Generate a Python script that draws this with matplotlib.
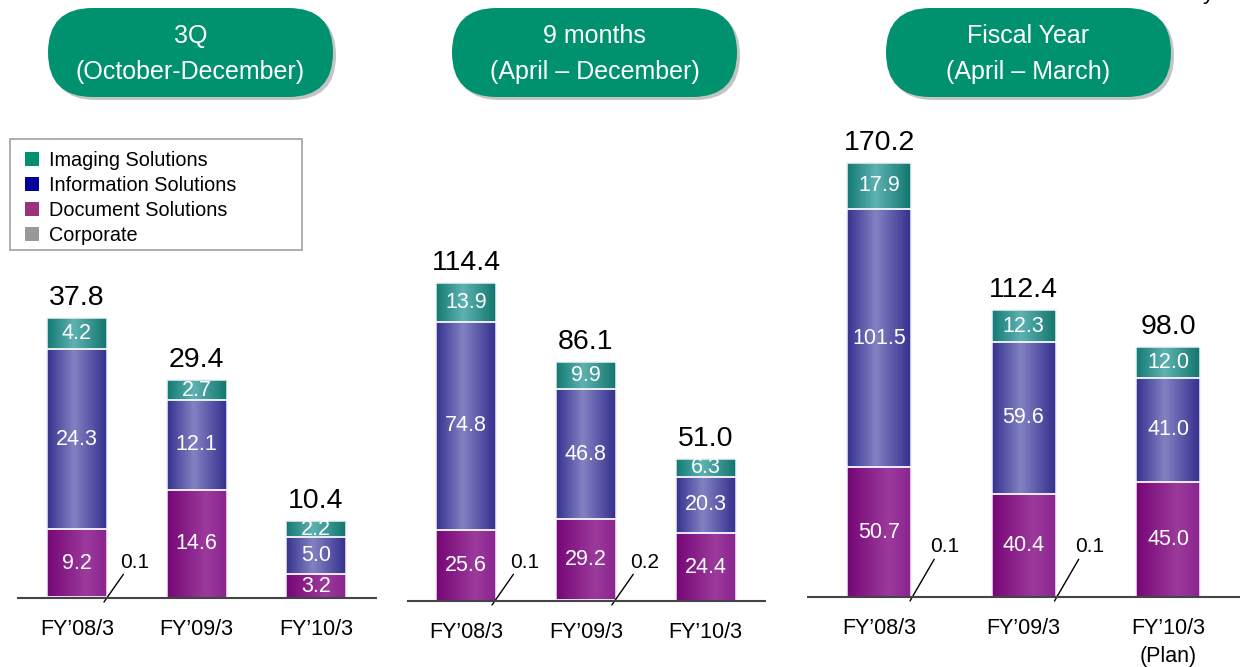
import numpy as np
import matplotlib
matplotlib.use("Agg")
import matplotlib.pyplot as plt
from matplotlib.colors import LinearSegmentedColormap
from matplotlib.patches import FancyBboxPatch, Patch, Rectangle

plt.rcParams["font.family"] = ["Liberation Sans", "DejaVu Sans"]

## data
panel_titles = ["3Q\n(October-December)", "9 months\n(April \u2013 December)", "Fiscal Year\n(April \u2013 March)"]
years = ["FY\u201908/3", "FY\u201909/3", "FY\u201910/3"]
years_fy = ["FY\u201908/3", "FY\u201909/3", "FY\u201910/3\n(Plan)"]

corporate = [[0.1, 0.0, 0.0], [0.1, 0.2, 0.0], [0.1, 0.1, 0.0]]
document = [[9.2, 14.6, 3.2], [25.6, 29.2, 24.4], [50.7, 40.4, 45.0]]
information = [[24.3, 12.1, 5.0], [74.8, 46.8, 20.3], [101.5, 59.6, 41.0]]
imaging = [[4.2, 2.7, 2.2], [13.9, 9.9, 6.3], [17.9, 12.3, 12.0]]
totals = [[37.8, 29.4, 10.4], [114.4, 86.1, 51.0], [170.2, 112.4, 98.0]]

series_names = ["Imaging Solutions", "Information Solutions", "Document Solutions", "Corporate"]
legend_colors = ["#009070", "#000099", "#993380", "#999999"]

## layout (pixels of the 1242x667 picture)
W, H = 1242, 667
# baseline, px per unit, first bar centre, bar spacing, bar width, axis left, axis right, header x0, x1
layout = [
    dict(base=598, ppu=7.41, c0=77, sp=119.5, bw=60, L=17, R=377, hx=(48, 333), lead=(27, 51, 30, 58, 36)),
    dict(base=601, ppu=2.78, c0=466, sp=119.8, bw=60, L=407, R=766, hx=(452, 737), lead=(26, 53, 28, 59, 39)),
    dict(base=597, ppu=2.55, c0=879, sp=144.5, bw=64, L=807, R=1240, hx=(886, 1171), lead=(31, 54, 37, 66, 50)),
]
TOP = 110

cmaps = {
    "doc": LinearSegmentedColormap.from_list("doc", [(0, "#760676"), (0.65, "#9C3A9C"), (1, "#8A2490")]),
    "info": LinearSegmentedColormap.from_list("info", [(0, "#35318F"), (0.45, "#8282C2"), (1, "#34308E")]),
    "img": LinearSegmentedColormap.from_list("img", [(0, "#127A72"), (0.45, "#5EB2B2"), (1, "#12766E")]),
    "corp": LinearSegmentedColormap.from_list("corp", ["#999999", "#999999"]),
}
grad = np.linspace(0, 1, 256).reshape(1, -1)

fig = plt.figure(figsize=(W / 100, H / 100), dpi=100)
pt = 0.72  # points per pixel

for p in range(3):
    lo = layout[p]
    B = lo["base"] + 15
    ax = fig.add_axes([lo["L"] / W, 1 - B / H, (lo["R"] - lo["L"]) / W, (B - TOP) / H])
    ax.set_facecolor("none")
    x = np.arange(3)
    w = lo["bw"] / lo["sp"]

    bottom = np.zeros(3)
    for key, vals in [("corp", corporate[p]), ("doc", document[p]), ("info", information[p]), ("img", imaging[p])]:
        vals = np.array(vals)
        bars = ax.bar(x, vals, w, bottom=bottom, facecolor="none", edgecolor="#F2F2F8", lw=1.1, zorder=3)
        for i, rect in enumerate(bars):
            if vals[i] <= 0:
                continue
            im = ax.imshow(grad, cmap=cmaps[key], aspect="auto", zorder=2,
                           extent=[x[i] - w / 2, x[i] + w / 2, bottom[i], bottom[i] + vals[i]])
            im.set_clip_path(rect)
            if key != "corp":
                ax.text(x[i], bottom[i] + vals[i] / 2, "%.1f" % vals[i], ha="center", va="center",
                        color="white", fontsize=15.5, zorder=4)
        bottom = bottom + vals

    for i in range(3):
        ax.annotate("%.1f" % totals[p][i], xy=(x[i], bottom[i]), xytext=(0, 5), textcoords="offset points",
                    ha="center", va="bottom", fontsize=20.5)
        c = corporate[p][i]
        if c > 0:
            sx, ex, ey, tx, ty = lo["lead"]
            ax.annotate("%.1f" % c, xy=(x[i] + sx / lo["sp"], -4 / lo["ppu"]),
                        xytext=(tx * pt - sx * pt, (ty + 4) * pt), textcoords="offset points",
                        ha="center", va="center", fontsize=15,
                        arrowprops=dict(arrowstyle="-", color="black", lw=1, shrinkA=0, shrinkB=0,
                                        relpos=(0.26, 0.2)),
                        annotation_clip=False)

    ax.axhline(0, color="#444444", lw=1.5, zorder=5)
    ax.set_xlim((lo["L"] - lo["c0"]) / lo["sp"], (lo["R"] - lo["c0"]) / lo["sp"])
    ax.set_ylim(-15 / lo["ppu"], (lo["base"] - TOP) / lo["ppu"])
    ax.set_xticks(x, years_fy if p == 2 else years, fontsize=15.5)
    for lab in ax.get_xticklabels():
        lab.set_linespacing(1.4)
    ax.tick_params(axis="x", length=0, pad=4.5)
    ax.set_yticks([])
    for s in ax.spines.values():
        s.set_visible(False)

    # header pill
    x0, x1 = lo["hx"]
    y0, y1 = 8, 97
    hgt = (y1 - y0) / 100
    shadow = FancyBboxPatch((x0 / 100 + 0.03, (H - y1) / 100 - 0.03), (x1 - x0) / 100, hgt,
                            boxstyle="round,pad=0,rounding_size=%f" % (hgt / 2),
                            transform=fig.dpi_scale_trans, fc="#C4C4C4", ec="none")
    pill = FancyBboxPatch((x0 / 100, (H - y1) / 100), (x1 - x0) / 100, hgt,
                          boxstyle="round,pad=0,rounding_size=%f" % (hgt / 2),
                          transform=fig.dpi_scale_trans, fc="#00916E", ec="none")
    fig.add_artist(shadow)
    fig.add_artist(pill)
    fig.text((x0 + x1) / 2 / W, 1 - 54 / H, panel_titles[p], ha="center", va="center",
             color="white", fontsize=18, linespacing=1.68)

# legend (frame drawn separately to match the box size)
fig.add_artist(Rectangle((10 / W, 1 - 250 / H), 292 / W, 111 / H, transform=fig.transFigure,
                         fc="none", ec="#A0A0A0", lw=1.2, zorder=5))
handles = [Patch(facecolor=c, edgecolor="none") for c in legend_colors]
fig.legend(handles, series_names, loc="upper left", bbox_to_anchor=(10 / W, 1 - 136 / H),
           fontsize=14.3, frameon=False,
           borderpad=0.75, labelspacing=0.3, handlelength=0.7, handleheight=0.7, handletextpad=0.5,
           borderaxespad=0)

fig.text(1203 / W, 1 + 1 / H, "y", ha="left", va="baseline", fontsize=16)

fig.savefig("out.png", dpi=100)
